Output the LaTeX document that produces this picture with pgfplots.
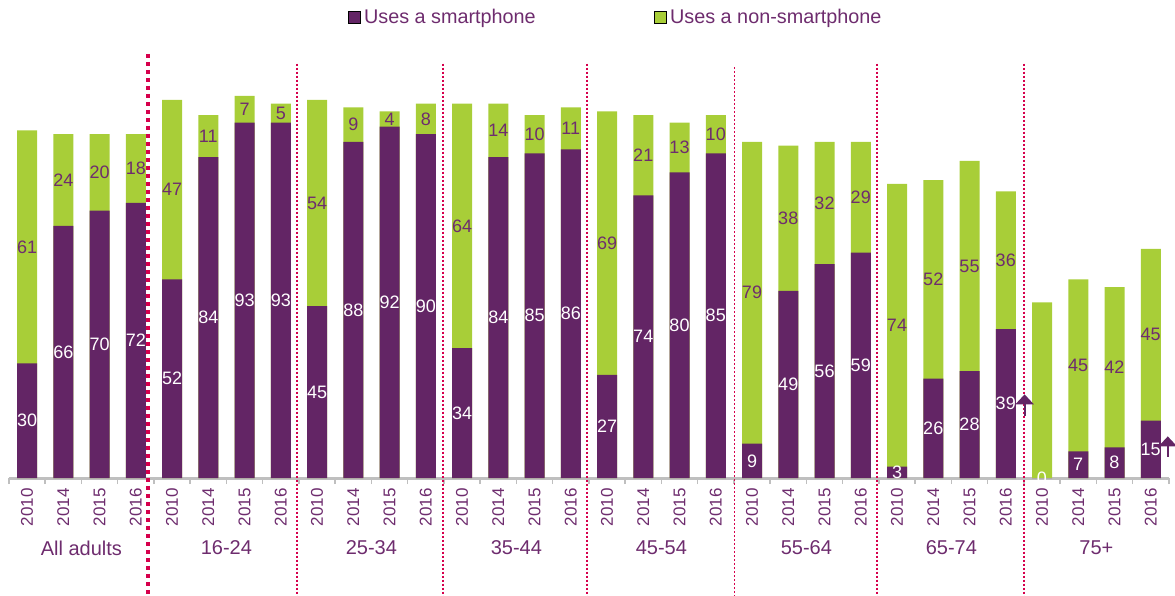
\documentclass[border=0pt]{standalone}
\usepackage{pgfplots}
\pgfplotsset{compat=1.18}
\usepackage{pgfplotstable}
\usepackage{fontspec}
\setmainfont{Liberation Sans}
\usetikzlibrary{arrows.meta}

\definecolor{smart}{RGB}{99,37,101}
\definecolor{nonsmart}{RGB}{168,206,56}
\definecolor{txt}{RGB}{110,44,110}
\definecolor{sepred}{RGB}{214,0,76}

% x = bar index, smart = uses a smartphone, non = uses a non-smartphone
\pgfplotstableread{
x smart non
0 30 61
1 66 24
2 70 20
3 72 18
4 52 47
5 84 11
6 93 7
7 93 5
8 45 54
9 88 9
10 92 4
11 90 8
12 34 64
13 84 14
14 85 10
15 86 11
16 27 69
17 74 21
18 80 13
19 85 10
20 9 79
21 49 38
22 56 32
23 59 29
24 3 74
25 26 52
26 28 55
27 39 36
28 0 46
29 7 45
30 8 42
31 15 45
}\data

\begin{document}
\begin{tikzpicture}
\begin{axis}[
  at={(8.9pt,117pt)}, anchor=south west,
  scale only axis, width=1160pt, height=420.2pt,
  xmin=-0.5, xmax=31.5, ymin=0, ymax=110,
  clip=false,
  /pgf/number format/assume math mode=true,
  axis y line=none,
  axis x line*=bottom,
  axis line style={draw=black!25, line width=3pt},
  xtick={0,...,31},
  xticklabels={2010,2014,2015,2016,2010,2014,2015,2016,2010,2014,2015,2016,2010,2014,2015,2016,
               2010,2014,2015,2016,2010,2014,2015,2016,2010,2014,2015,2016,2010,2014,2015,2016},
  major tick length=0pt,
  minor xtick={-0.5,0.5,...,31.5},
  minor tick length=6pt,
  tick align=outside,
  minor tick style={draw=black!25, line width=1.5pt},
  xticklabel style={rotate=90, anchor=east, inner sep=0pt, text=txt,
                    font=\fontsize{17}{19}\selectfont, xshift=-10pt},
  legend style={at={(0.523,1.097)}, anchor=center, draw=none, fill=none,
                legend columns=2, text=txt, font=\fontsize{19.8}{22}\selectfont,
                /tikz/every even column/.append style={column sep=116pt}},
  legend image code/.code={\fill[#1] (0pt,-6pt) rectangle (12pt,6pt); \path (14pt,0pt);},
]
% green bar = full height, purple bar drawn over it
\addplot[forget plot, ybar, bar width=20pt, bar shift=0pt, fill=nonsmart, draw=none]
  table[x=x, y expr=\thisrow{smart}+\thisrow{non}] {\data};
\addplot[forget plot, ybar, bar width=20pt, bar shift=0pt, fill=smart, draw=none]
  table[x=x, y=smart] {\data};

% value labels
\addplot[forget plot, only marks, mark=none, nodes near coords, point meta=explicit,
  every node near coord/.append style={anchor=center, text=white, font=\fontsize{18}{20}\selectfont}]
  table[x=x, y expr=\thisrow{smart}/2, meta=smart] {\data};
\addplot[forget plot, only marks, mark=none, nodes near coords, point meta=explicit,
  skip coords between index={28}{29},
  every node near coord/.append style={anchor=center, text=txt, font=\fontsize{18}{20}\selectfont}]
  table[x=x, y expr=\thisrow{smart}+\thisrow{non}/2, meta=non] {\data};

\addlegendimage{fill=smart}
\addlegendentry{Uses a smartphone}
\addlegendimage{fill=nonsmart}
\addlegendentry{Uses a non-smartphone}

% group separators
\draw[sepred, line width=4pt, dash pattern=on 4pt off 4pt] (axis cs:3.35,111) -- (axis cs:3.35,-31);
\draw[sepred, line width=1.5pt, dash pattern=on 2pt off 2pt] (axis cs:7.45,108.5) -- (axis cs:7.45,-31);
\draw[sepred, line width=1.5pt, dash pattern=on 2pt off 2pt] (axis cs:11.47,108.5) -- (axis cs:11.47,-31);
\draw[sepred, line width=1.5pt, dash pattern=on 2pt off 2pt] (axis cs:15.45,108.5) -- (axis cs:15.45,-31);
\draw[sepred, line width=1.5pt, dash pattern=on 2pt off 2pt] (axis cs:19.52,107.5) -- (axis cs:19.52,-31);
\draw[sepred, line width=1.5pt, dash pattern=on 2pt off 2pt] (axis cs:23.45,108.5) -- (axis cs:23.45,-31);
\draw[sepred, line width=1.5pt, dash pattern=on 2pt off 2pt] (axis cs:27.5,108.5) -- (axis cs:27.5,-31);

% up arrows
\draw[smart, line width=2pt, -{Triangle[width=18pt,length=10pt]}] (axis cs:27.52,16.2) -- (axis cs:27.52,21.9);
\draw[smart, line width=2pt, -{Triangle[width=18pt,length=10pt]}] (axis cs:31.47,5.5) -- (axis cs:31.47,10.9);

% group names
\begin{scope}[every node/.style={text=txt, font=\fontsize{20}{22}\selectfont}]
\node at (axis cs:1.5,-18.3) {All adults};
\node at (axis cs:5.5,-18.3) {16-24};
\node at (axis cs:9.5,-18.3) {25-34};
\node at (axis cs:13.5,-18.3) {35-44};
\node at (axis cs:17.5,-18.3) {45-54};
\node at (axis cs:21.5,-18.3) {55-64};
\node at (axis cs:25.5,-18.3) {65-74};
\node at (axis cs:29.5,-18.3) {75+};
\end{scope}
\end{axis}
\pgfresetboundingbox
\path (0,0) rectangle (1175pt,595pt);
\end{tikzpicture}
\end{document}
